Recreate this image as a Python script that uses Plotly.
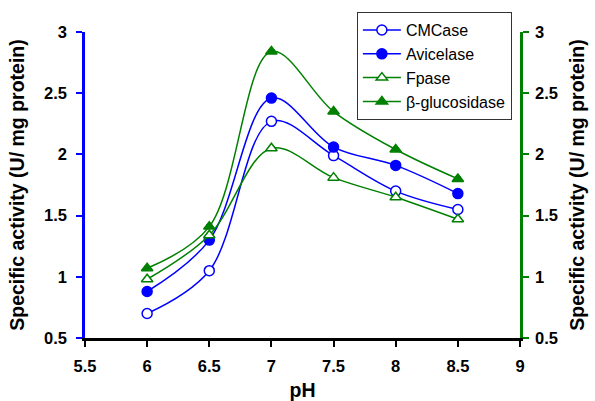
import plotly.graph_objects as go

# pH values and specific activities (U/ mg protein)
ph = [6, 6.5, 7, 7.5, 8, 8.5]
cmcase = [0.70, 1.05, 2.27, 1.99, 1.70, 1.55]
avicelase = [0.88, 1.30, 2.46, 2.06, 1.91, 1.68]
fpase = [0.98, 1.34, 2.05, 1.81, 1.65, 1.47]
bgluc = [1.07, 1.41, 2.84, 2.35, 2.04, 1.80]
err = [0.015, 0.015, 0.015, 0.015, 0.015, 0.015]

BLUE = "#0000FF"
GREEN = "#008000"
FONT = "Liberation Sans, Arial, sans-serif"

# name, values, colour, marker symbol, filled?, axis
series = [
    ("CMCase", cmcase, BLUE, "circle", False, "y"),
    ("Avicelase", avicelase, BLUE, "circle", True, "y"),
    ("Fpase", fpase, GREEN, "triangle-up", False, "y2"),
    ("β-glucosidase", bgluc, GREEN, "triangle-up", True, "y2"),
]

fig = go.Figure()
for name, vals, col, sym, filled, ax in series:
    fig.add_trace(go.Scatter(
        x=ph, y=vals, name=name, yaxis=ax,
        mode="lines+markers",
        line=dict(color=col, width=1.5, shape="spline", smoothing=1.0),
        marker=dict(symbol=sym, size=10,
                    color=col if filled else "white",
                    line=dict(color=col, width=1.5)),
        error_y=dict(type="data", array=err, color="black", thickness=1, width=3),
    ))

ticks = [0.5, 1, 1.5, 2, 2.5, 3]
xticks = [5.5, 6, 6.5, 7, 7.5, 8, 8.5, 9]
tickfont = dict(family=FONT, size=16.5, color="black")
titlefont = dict(family=FONT, size=19.5, color="black")
ytitle = "<b>Specific activity (U/ mg protein)</b>"

fig.update_layout(
    width=595, height=401,
    margin=dict(l=85, r=75, t=32, b=63, autoexpand=False),
    paper_bgcolor="white", plot_bgcolor="white",
    font=dict(family=FONT, color="black"),
    showlegend=True,
    legend=dict(
        x=0.625, y=1.065, xanchor="left", yanchor="top",
        bgcolor="white", bordercolor="#333333", borderwidth=1,
        font=dict(family=FONT, size=16, color="black"),
        tracegroupgap=0, itemwidth=38,
    ),
    xaxis=dict(
        range=[5.5, 9], tickvals=xticks,
        ticktext=["<b>%g</b>" % v for v in xticks],
        showline=True, linecolor="black", linewidth=2.5,
        ticks="outside", ticklen=6, tickwidth=2, tickcolor="black",
        showgrid=False, zeroline=False, tickfont=tickfont,
        ticklabelstandoff=5, automargin=False,
        title=dict(text="<b>pH</b>", font=titlefont, standoff=13),
    ),
    yaxis=dict(
        range=[0.5, 3], tickvals=ticks,
        ticktext=["<b>%g</b>" % v for v in ticks],
        showline=True, linecolor=BLUE, linewidth=2.5,
        ticks="outside", ticklen=6, tickwidth=2, tickcolor=BLUE,
        showgrid=False, zeroline=False, tickfont=tickfont,
        ticklabelstandoff=6, automargin=False,
        title=dict(text=ytitle, font=titlefont, standoff=15),
    ),
    yaxis2=dict(
        range=[0.5, 3], tickvals=ticks,
        ticktext=["<b>%g</b>" % v for v in ticks],
        overlaying="y", side="right",
        showline=True, linecolor=GREEN, linewidth=2.5,
        ticks="outside", ticklen=6, tickwidth=2, tickcolor=GREEN,
        showgrid=False, zeroline=False, tickfont=tickfont,
        ticklabelstandoff=3, automargin=False,
        title=dict(text=ytitle, font=titlefont, standoff=14),
    ),
)

fig.write_html("out.html")
